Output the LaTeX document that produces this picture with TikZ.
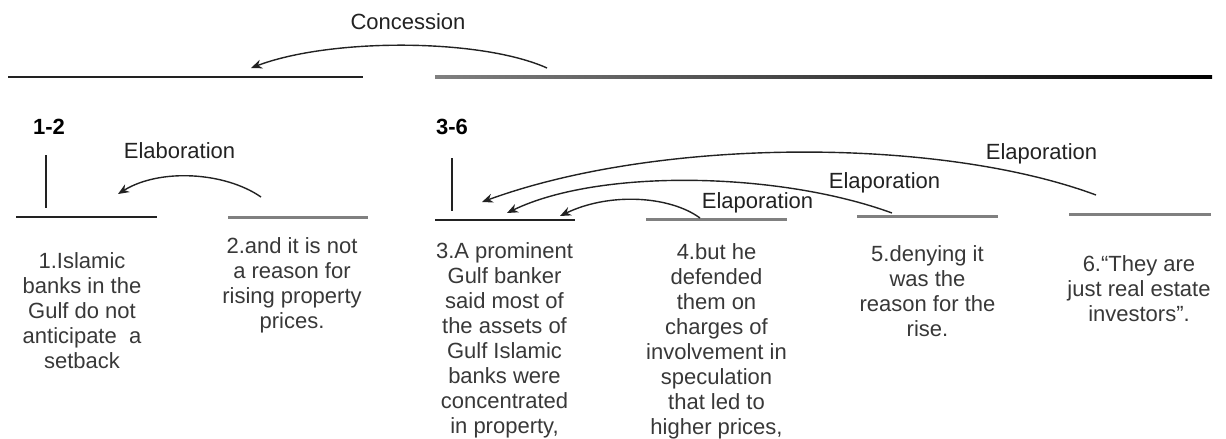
\documentclass[tikz,border=0pt]{standalone}
\usepackage{fontspec}
\setmainfont{Liberation Sans}
\usetikzlibrary{arrows.meta}
\definecolor{txt}{HTML}{383838}
\definecolor{lblack}{HTML}{222222}
\definecolor{lgray}{HTML}{808080}
\begin{document}
\begin{tikzpicture}[x=1pt,y=-1pt,
  lbl/.style={inner sep=0pt, anchor=base, text=lblack, font=\fontsize{22}{25}\selectfont},
  num/.style={inner sep=0pt, anchor=base, text=black, font=\bfseries\fontsize{22}{25}\selectfont},
  body/.style={inner sep=0pt, anchor=north, align=center, text=txt, font=\fontsize{22}{25}\selectfont},
  blk/.style={draw=lblack, line width=1.6pt},
  gry/.style={draw=lgray, line width=3pt},
  vline/.style={draw=lblack, line width=1.3pt},
  arr/.style={draw=lblack, line width=1.4pt, -{Stealth[length=11pt,width=9pt]}}]
\useasboundingbox (0,0) rectangle (1226,439);
% top spans
\coordinate (t12a) at (8,77);
\coordinate (t12b) at (363,77);
\coordinate (t36a) at (435,77);
\coordinate (t36b) at (1212,77);
\draw[blk] (t12a) -- (t12b);
\shade[left color=lgray, right color=black] (435,75.6) rectangle (1212,78.6);
\node[lbl] (conc) at (408,29.6) {Concession};
\coordinate (c36) at (547,68);
\coordinate (c12) at (251,68);
\draw[arr] (c36) .. controls (480,38) and (330,38) .. (c12);
% span 1-2
\node[num] (n12) at (49,134.9) {1-2};
\node[lbl] (elab) at (179.5,158.9) {Elaboration};
\coordinate (v12a) at (46,155);
\coordinate (v12b) at (46,208);
\draw[vline] (v12a) -- (v12b);
\coordinate (l1a) at (16,217);
\coordinate (l1b) at (157,217);
\coordinate (l2a) at (228,217);
\coordinate (l2b) at (368,217);
\draw[blk] (l1a) -- (l1b);
\draw[gry] (l2a) -- (l2b);
\coordinate (e2) at (261,197);
\coordinate (e1) at (118,194);
\draw[arr] (e2) .. controls (225,172) and (160,168) .. (e1);
% span 3-6
\node[num] (n36) at (452,134.9) {3-6};
\coordinate (v36a) at (452,158);
\coordinate (v36b) at (452,211);
\draw[vline] (v36a) -- (v36b);
\coordinate (l3a) at (435,220);
\coordinate (l3b) at (575,220);
\coordinate (l4a) at (646,219.5);
\coordinate (l4b) at (787,219.5);
\coordinate (l5a) at (857,216.7);
\coordinate (l5b) at (998,216.7);
\coordinate (l6a) at (1069,214.3);
\coordinate (l6b) at (1211,214.3);
\draw[blk] (l3a) -- (l3b);
\draw[gry] (l4a) -- (l4b);
\draw[gry] (l5a) -- (l5b);
\draw[gry] (l6a) -- (l6b);
\coordinate (s4) at (700,218);
\coordinate (h4) at (560,216);
\draw[arr] (s4) .. controls (670,196) and (610,192) .. (h4);
\coordinate (s5) at (892,213);
\coordinate (h5) at (507,213);
\draw[arr] (s5) .. controls (780,172) and (600,168) .. (h5);
\coordinate (s6) at (1096,195);
\coordinate (h6) at (482,202);
\draw[arr] (s6) .. controls (940,137) and (660,137) .. (h6);
\node[lbl] (el4) at (757.5,208.7) {Elaporation};
\node[lbl] (el5) at (884.5,188.9) {Elaporation};
\node[lbl] (el6) at (1041.5,159.6) {Elaporation};
% texts
\node[body] (x1) at (82,251.2) {\strut 1.Islamic\\banks in the\\Gulf do not\\anticipate~ a\\setback};
\node[body] (x2) at (292,236.2) {\strut 2.and it is not\\a reason for\\rising property\\prices.};
\node[body] (x3) at (504.5,241.2) {\strut 3.A prominent\\Gulf banker\\said most of\\the assets of\\Gulf Islamic\\banks were\\concentrated\\in property,};
\node[body] (x4) at (716.5,241.8) {\strut 4.but he\\defended\\them on\\charges of\\involvement in\\speculation\\that led to\\higher prices,};
\node[body] (x5) at (927.5,243.5) {\strut 5.denying it\\was the\\reason for the\\rise.};
\node[body] (x6) at (1139,254.2) {\strut 6.“They are\\just real estate\\investors”.};
\end{tikzpicture}
\end{document}
